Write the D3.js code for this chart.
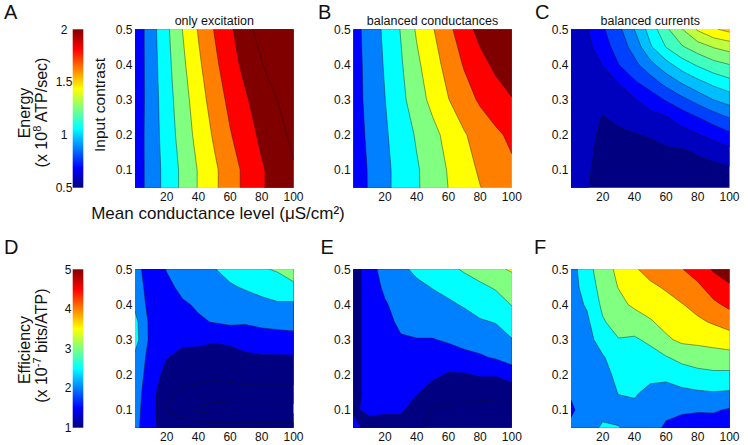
<!DOCTYPE html>
<html><head><meta charset="utf-8">
<script src="https://cdn.jsdelivr.net/npm/d3@7"></script>
<style>
html,body{margin:0;padding:0;background:#fff;}
svg{display:block;font-family:"Liberation Sans",Arial,Helvetica,sans-serif;}
</style></head>
<body><svg id="chart" width="748" height="445"></svg>
<script>
// ---------------- data ----------------
const xGrid = [0,10,20,30,40,50,60,70,80,90,100];
const yGridCoarse = [0.5,0.4,0.3,0.2,0.1,0.05];
const yGridFine = [0.5,0.45,0.4,0.35,0.3,0.25,0.2,0.15,0.1,0.05];
const xTicks = [20,40,60,80,100];
const yTicks = [0.1,0.2,0.3,0.4,0.5];
const energyBarTicks = [0.5,1,1.5,2];
const efficiencyBarTicks = [1,2,3,4,5];
const energyLevels = [0.5,0.6875,0.875,1.0625,1.25,1.4375,1.625,1.8125,2.0,2.1875];
const energyLevelsFine = [0.5,0.59375,0.6875,0.78125,0.875,0.96875,1.0625,1.15625,1.25,1.34375,1.4375,1.53125,1.625];
const efficiencyLevels = [0,0.5,1,1.5,2,2.5,3,3.5,4,4.5,5,5.5];
const titles = ["only excitation","balanced conductances","balanced currents"];

// Energy (x10^8 ATP/sec), rows from contrast 0.5 down to 0.05
const gridA = [
 [0.73,0.98,1.21,1.44,1.64,1.82,1.97,2.13,2.26,2.39,2.53],
 [0.74,0.97,1.19,1.40,1.59,1.77,1.92,2.06,2.18,2.29,2.40],
 [0.75,0.96,1.17,1.36,1.54,1.71,1.86,1.98,2.10,2.19,2.28],
 [0.76,0.96,1.15,1.33,1.50,1.65,1.80,1.92,2.04,2.13,2.23],
 [0.77,0.95,1.13,1.29,1.45,1.59,1.73,1.86,1.98,2.08,2.17],
 [0.77,0.95,1.13,1.29,1.45,1.59,1.73,1.86,1.98,2.08,2.16]
];
const gridB = [
 [0.80,0.95,1.10,1.26,1.46,1.61,1.77,1.92,2.06,2.12,2.17],
 [0.79,0.94,1.08,1.23,1.40,1.55,1.69,1.83,1.94,2.04,2.11],
 [0.79,0.93,1.06,1.20,1.35,1.49,1.62,1.73,1.84,1.92,1.99],
 [0.78,0.91,1.04,1.15,1.27,1.38,1.50,1.61,1.70,1.78,1.85],
 [0.77,0.89,1.02,1.13,1.23,1.34,1.45,1.55,1.65,1.72,1.78],
 [0.76,0.89,1.02,1.13,1.23,1.33,1.44,1.53,1.62,1.69,1.75]
];
const gridC = [
 [0.62,0.68,0.77,0.85,0.97,1.10,1.23,1.34,1.45,1.52,1.56],
 [0.63,0.66,0.74,0.82,0.91,1.05,1.16,1.24,1.30,1.35,1.38],
 [0.63,0.65,0.69,0.78,0.85,0.94,1.03,1.11,1.17,1.22,1.25],
 [0.64,0.64,0.66,0.69,0.77,0.83,0.91,0.98,1.04,1.09,1.13],
 [0.64,0.64,0.62,0.65,0.68,0.73,0.79,0.85,0.91,0.97,1.01],
 [0.64,0.63,0.59,0.61,0.63,0.66,0.68,0.73,0.78,0.83,0.88],
 [0.64,0.63,0.57,0.58,0.59,0.60,0.62,0.65,0.68,0.72,0.76],
 [0.64,0.62,0.56,0.55,0.56,0.57,0.58,0.58,0.60,0.62,0.65],
 [0.64,0.61,0.55,0.54,0.54,0.55,0.55,0.56,0.57,0.57,0.58],
 [0.63,0.60,0.55,0.54,0.54,0.54,0.54,0.55,0.55,0.55,0.55]
];
// Efficiency (x10^-7 bits/ATP)
const gridD = [
 [2.2,1.7,2.02,2.25,2.35,2.48,2.65,2.8,2.95,3.05,3.12],
 [2.3,1.75,1.9,2.1,2.2,2.3,2.45,2.55,2.6,2.75,2.95],
 [2.4,1.8,1.8,1.95,2.05,2.15,2.25,2.3,2.42,2.45,2.41],
 [2.65,1.85,1.7,1.75,1.95,2.02,2.08,2.05,2.1,2.15,2.15],
 [2.7,1.85,1.6,1.58,1.6,1.55,1.62,1.7,1.8,1.8,1.85],
 [2.4,1.8,1.52,1.4,1.35,1.3,1.3,1.42,1.45,1.45,1.45],
 [2.3,1.75,1.35,1.2,1.15,1.1,1.15,1.2,1.2,1.2,1.2],
 [2.2,1.72,1.1,0.9,0.85,0.75,0.8,0.85,0.85,0.85,0.85],
 [2.15,1.72,0.98,0.8,0.4,0.3,0.3,0.3,0.3,0.3,0.3],
 [2.1,1.75,1.1,1.3,1.3,1.3,1.3,1.3,1.3,1.3,1.3]
];
const gridE = [
 [1.3,1.7,2.3,2.4,2.6,2.75,2.9,3.05,3.2,3.4,3.56],
 [1.3,1.7,2.1,2.3,2.4,2.52,2.65,2.8,2.92,3.05,3.2],
 [1.3,1.7,1.95,2.2,2.3,2.35,2.42,2.55,2.7,2.8,3.02],
 [1.3,1.7,1.85,2.1,2.2,2.2,2.25,2.3,2.45,2.52,2.7],
 [1.3,1.7,1.75,1.95,1.98,1.98,2.05,2.12,2.2,2.3,2.48],
 [1.3,1.7,1.7,1.8,1.8,1.75,1.8,1.9,1.95,2.05,2.15],
 [1.3,1.7,1.65,1.7,1.7,1.6,1.45,1.45,1.55,1.55,1.8],
 [1.3,1.68,1.62,1.65,1.55,1.3,1.2,1.15,1.1,1.1,1.1],
 [1.4,1.65,1.6,1.6,1.2,0.95,0.9,0.9,0.88,0.86,0.85],
 [1.8,1.2,1.2,1.2,1.1,0.9,0.85,0.85,0.85,0.85,0.85]
];
const gridF = [
 [2.3,2.8,3.3,3.6,3.95,4.15,4.3,4.48,4.75,5.05,5.3],
 [2.3,2.7,3.2,3.52,3.8,3.92,4.05,4.25,4.4,4.75,4.92],
 [2.3,2.55,3.1,3.35,3.6,3.7,3.85,3.98,4.15,4.4,4.62],
 [2.25,2.4,2.95,3.2,3.2,3.45,3.65,3.75,3.92,4.05,4.2],
 [2.2,2.3,2.75,2.98,2.95,3.08,3.42,3.6,3.62,3.67,3.78],
 [2.15,2.25,2.45,2.8,2.8,2.85,2.97,3.15,3.25,3.3,3.3],
 [2.1,2.2,2.3,2.65,2.65,2.6,2.6,2.75,2.85,2.9,2.9],
 [2.05,2.15,2.25,2.52,2.55,2.4,2.35,2.4,2.45,2.48,2.45],
 [1.93,2.2,2.3,2.35,2.4,2.3,2.15,2.1,2.05,2.05,1.95],
 [2.1,2.2,2.6,2.52,2.3,2.25,1.9,1.7,1.7,1.75,1.75]
];

// ---------------- drawing ----------------
const svg = d3.select("#chart");
const defs = svg.append("defs");
const W = 158.5, H = 158.4;
const lefts = [135, 353.3, 571];
const tops = [29.3, 269.3];

function jet(t){
  t = Math.max(0, Math.min(1, t));
  const f = v => Math.max(0, Math.min(1, v));
  return d3.rgb(255*f(1.5-Math.abs(4*t-3)), 255*f(1.5-Math.abs(4*t-2)), 255*f(1.5-Math.abs(4*t-1))).formatHex();
}
const energyT = d3.scaleLinear().domain([0.5,2]).range([0,1]).clamp(true);
const effT = d3.scaleLinear().domain([1,5]).range([0,1]).clamp(true);

const panels = [
 {letter:"A", col:0, row:0, grid:gridA, ys:yGridCoarse, levels:energyLevels, t:energyT, title:titles[0]},
 {letter:"B", col:1, row:0, grid:gridB, ys:yGridCoarse, levels:energyLevels, t:energyT, title:titles[1]},
 {letter:"C", col:2, row:0, grid:gridC, ys:yGridFine, levels:energyLevelsFine, t:energyT, title:titles[2]},
 {letter:"D", col:0, row:1, grid:gridD, ys:yGridFine, levels:efficiencyLevels, t:effT, title:""},
 {letter:"E", col:1, row:1, grid:gridE, ys:yGridFine, levels:efficiencyLevels, t:effT, title:""},
 {letter:"F", col:2, row:1, grid:gridF, ys:yGridFine, levels:efficiencyLevels, t:effT, title:""}
];

const letterPos = {A:[4,19.3],B:[318,18.8],C:[535,19],D:[4,253.5],E:[320.5,253.5],F:[534,253.5]};

panels.forEach(p => {
  const left = lefts[p.col], top = tops[p.row];
  const x = d3.scaleLinear().domain([0,100]).range([left, left+W]);
  const y = d3.scaleLinear().domain([0.05,0.5]).range([top+H, top]);
  const nx = xGrid.length, ny = p.ys.length;
  const gx = d3.scaleLinear().domain(xGrid.map((d,i)=>i+0.5)).range(xGrid.map(d=>x(d)));
  const gy = d3.scaleLinear().domain(p.ys.map((d,i)=>i+0.5)).range(p.ys.map(d=>y(d)));
  const values = p.grid.flat();
  const contours = d3.contours().size([nx, ny]).thresholds(p.levels)(values);
  const proj = d3.geoTransform({point(px,py){ this.stream.point(gx(px), gy(py)); }});
  const path = d3.geoPath(proj);

  const clipId = "clip" + p.letter;
  defs.append("clipPath").attr("id", clipId).append("rect")
    .attr("x", left).attr("y", top).attr("width", W).attr("height", H);
  const g = svg.append("g").attr("clip-path", `url(#${clipId})`);
  g.selectAll("path.fill").data(contours).join("path").attr("class","fill")
    .attr("d", path).attr("fill", d => jet(p.t(d.value))).attr("stroke","none");
  g.selectAll("path.line").data(contours).join("path").attr("class","line")
    .attr("d", path).attr("fill","none").attr("stroke","#111")
    .attr("stroke-width",0.55).attr("stroke-opacity",0.75);

  // tick labels
  svg.append("g").selectAll("text").data(yTicks).join("text")
    .attr("x", left-2.5).attr("y", d=>y(d)).attr("dy","0.35em")
    .attr("text-anchor","end").attr("font-size",12).attr("fill","#111")
    .text(d=>d3.format(".1f")(d));
  svg.append("g").selectAll("text").data(xTicks).join("text")
    .attr("x", d=>x(d)).attr("y", top+H+13.6)
    .attr("text-anchor","middle").attr("font-size",12).attr("fill","#111")
    .text(d=>d);

  if (p.title) {
    svg.append("text").attr("x", left+W/2).attr("y", top-4.5)
      .attr("text-anchor","middle").attr("font-size",12.5).attr("fill","#111").text(p.title);
  }
  const lp = letterPos[p.letter];
  svg.append("text").attr("x", lp[0]).attr("y", lp[1]).attr("font-size",20).attr("fill","#111").text(p.letter);
});

// axis labels (panel A)
svg.append("text").attr("transform", `translate(104.5,${tops[0]+H/2-3.5}) rotate(-90)`)
  .attr("text-anchor","middle").attr("font-size",15.5).attr("fill","#111").text("Input contrast");
const xl = svg.append("text").attr("x", 218).attr("y", 218.5)
  .attr("text-anchor","middle").attr("font-size",17).attr("fill","#111");
xl.append("tspan").text("Mean conductance level (\u03BCS/cm\u00B2)");

// colorbars
function colorbar(row, domain, ticks, labelLines, sup, labelCenterShift, tickX){
  const top = tops[row];
  const cbx = 72.7, cbw = 10.6;
  const id = "grad" + row;
  const grad = defs.append("linearGradient").attr("id", id)
    .attr("x1",0).attr("y1",1).attr("x2",0).attr("y2",0);
  [0,0.125,0.375,0.625,0.875,1].forEach(t => grad.append("stop").attr("offset", t).attr("stop-color", jet(t)));
  svg.append("rect").attr("x", cbx).attr("y", top).attr("width", cbw).attr("height", H).attr("fill", `url(#${id})`);
  const s = d3.scaleLinear().domain(domain).range([top+H, top]);
  svg.append("g").selectAll("text").data(ticks).join("text")
    .attr("x", tickX).attr("y", d=>s(d)).attr("dy","0.35em").attr("text-anchor","middle")
    .attr("font-size",12).attr("fill","#111").text(d=>d);
  const cy = top + H/2;
  svg.append("text").attr("transform", `translate(30,${cy+labelCenterShift[0]}) rotate(-90)`)
    .attr("text-anchor","middle").attr("font-size",16).attr("fill","#111").text(labelLines[0]);
  const t2 = svg.append("text").attr("transform", `translate(47,${cy+labelCenterShift[1]}) rotate(-90)`)
    .attr("text-anchor","middle").attr("font-size",16).attr("fill","#111");
  t2.append("tspan").text(labelLines[1]);
  t2.append("tspan").attr("font-size",11).attr("dy",-6).text(sup);
  t2.append("tspan").attr("dy",6).text(labelLines[2]);
}
colorbar(0, [0.5,2], energyBarTicks, ["Energy","(x 10"," ATP/sec)"], "8", [4.5,4], 64);
colorbar(1, [1,5], efficiencyBarTicks, ["Efficiency","(x 10"," bits/ATP)"], "-7", [1.5,-2.9], 68);
</script>
</body></html>
